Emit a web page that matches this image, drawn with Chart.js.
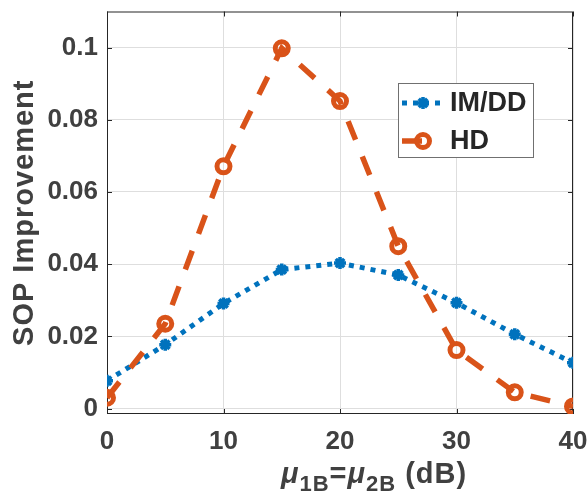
<!DOCTYPE html>
<html>
<head>
<meta charset="utf-8">
<script src="https://cdn.jsdelivr.net/npm/chart.js@4"></script>
<style>
  html, body { margin: 0; padding: 0; background: #fff; }
  #wrap { width: 588px; height: 494px; }
</style>
</head>
<body>
<div id="wrap"><canvas id="sop"></canvas></div>
<script>
// mu_1B = mu_2B sweep (dB) and SOP improvement of each receiver
const snr = [0, 5, 10, 15, 20, 25, 30, 35, 40];
const imdd = [0.0077, 0.0177, 0.0291, 0.0385, 0.0403, 0.0370, 0.0293, 0.0206, 0.0127];
const hd = [0.0030, 0.0235, 0.0671, 0.0998, 0.0852, 0.0450, 0.0162, 0.0045, 0.0006];
const xTicks = [0, 10, 20, 30, 40];
const yTicks = [0, 0.02, 0.04, 0.06, 0.08, 0.1];
const seriesNames = ['IM/DD', 'HD'];

const blue = '#0072BD';
const orange = '#D95319';
const axisColor = '#262626';
const labelColor = '#404040';
const fontFamily = '"Liberation Sans", Arial, sans-serif';

Chart.defaults.font.family = fontFamily;

function pts(ys) {
  return snr.map((x, i) => ({ x: x, y: ys[i] }));
}

// box, inward ticks, axis titles and legend in the MATLAB style
const axesPlugin = {
  id: 'axesBox',
  beforeDatasetsDraw(chart) {
    const { ctx, chartArea: a, scales: { x, y } } = chart;
    ctx.save();
    ctx.strokeStyle = axisColor;
    ctx.lineWidth = 1;
    ctx.strokeRect(a.left + 0.5, a.top + 0.5, a.right - a.left - 1, a.bottom - a.top - 1);
    ctx.beginPath();
    xTicks.forEach(v => {
      const px = Math.round(x.getPixelForValue(v)) + 0.5;
      ctx.moveTo(px, a.bottom); ctx.lineTo(px, a.bottom - 5);
      ctx.moveTo(px, a.top); ctx.lineTo(px, a.top + 5);
    });
    yTicks.forEach(v => {
      const py = Math.round(y.getPixelForValue(v)) + 0.5;
      ctx.moveTo(a.left, py); ctx.lineTo(a.left + 5, py);
      ctx.moveTo(a.right, py); ctx.lineTo(a.right - 5, py);
    });
    ctx.stroke();

    // y title
    ctx.fillStyle = labelColor;
    ctx.letterSpacing = '1px';
    ctx.font = 'bold 29px ' + fontFamily;
    ctx.textAlign = 'center';
    ctx.textBaseline = 'alphabetic';
    ctx.save();
    ctx.translate(33, (a.top + a.bottom) / 2);
    ctx.rotate(-Math.PI / 2);
    ctx.fillText('SOP Improvement', 0, 0);
    ctx.restore();

    // x title with subscripts
    const main = 'bold 29px ' + fontFamily;
    const ital = 'italic bold 29px ' + fontFamily;
    const sub = 'bold 22px ' + fontFamily;
    const parts = [
      ['\u03bc', ital, 0], ['1B', sub, 8], ['=', main, 0],
      ['\u03bc', ital, 0], ['2B', sub, 8], [' (dB)', main, 0]
    ];
    let cx = a.left + 174;
    const base = 483;
    ctx.textAlign = 'left';
    parts.forEach(([t, f, dy]) => {
      ctx.font = f;
      ctx.fillText(t, cx, base + dy);
      cx += ctx.measureText(t).width;
    });
    ctx.restore();
  },
  afterDraw(chart) {
    const { ctx } = chart;
    const H = Chart.helpers;
    ctx.save();
    // legend box
    ctx.fillStyle = '#fff';
    ctx.fillRect(398, 83, 135, 74);
    ctx.strokeStyle = '#707070';
    ctx.lineWidth = 1;
    ctx.strokeRect(398.5, 83.5, 135, 74);

    const rows = [103, 141];
    chart.data.datasets.forEach((ds, i) => {
      const ry = rows[i];
      ctx.save();
      ctx.strokeStyle = ds.borderColor;
      ctx.lineWidth = ds.borderWidth;
      ctx.setLineDash(ds.borderDash);
      ctx.beginPath();
      ctx.moveTo(402, ry);
      ctx.lineTo(440, ry);
      ctx.stroke();
      ctx.restore();

      ctx.save();
      ctx.strokeStyle = ds.pointBorderColor;
      ctx.fillStyle = ds.pointBackgroundColor;
      ctx.lineWidth = ds.pointBorderWidth;
      H.drawPoint(ctx, {
        pointStyle: ds.pointStyle,
        radius: ds.pointRadius,
        borderWidth: ds.pointBorderWidth,
        rotation: 0
      }, 423, ry);
      ctx.restore();

      ctx.fillStyle = axisColor;
      ctx.font = 'bold 27px ' + fontFamily;
      ctx.textAlign = 'left';
      ctx.textBaseline = 'middle';
      ctx.fillText(seriesNames[i], 450, ry + 1);
    });
    ctx.restore();
  }
};

new Chart(document.getElementById('sop'), {
  type: 'line',
  data: {
    datasets: [
      {
        label: seriesNames[0],
        data: pts(imdd),
        borderColor: blue,
        backgroundColor: blue,
        borderWidth: 5,
        borderDash: [5, 6],
        pointStyle: 'star',
        pointRadius: 6,
        pointBorderWidth: 3.5,
        pointBorderColor: blue,
        pointBackgroundColor: blue,
        tension: 0,
        order: 1
      },
      {
        label: seriesNames[1],
        data: pts(hd),
        borderColor: orange,
        backgroundColor: orange,
        borderWidth: 5.5,
        borderDash: [20, 18],
        pointStyle: 'circle',
        pointRadius: 6.5,
        pointBorderWidth: 5,
        pointBorderColor: orange,
        pointBackgroundColor: 'rgba(0,0,0,0)',
        tension: 0,
        order: 0
      }
    ]
  },
  options: {
    responsive: true,
    maintainAspectRatio: false,
    animation: false,
    devicePixelRatio: 1,
    layout: { padding: { top: 5, right: 15, left: 0, bottom: 0 } },
    plugins: {
      legend: { display: false },
      tooltip: { enabled: false }
    },
    scales: {
      x: {
        type: 'linear',
        min: 0,
        max: 40,
        afterBuildTicks: s => { s.ticks = xTicks.map(v => ({ value: v })); },
        afterFit: s => { s.height = 80; s.paddingLeft = 0; s.paddingRight = 0; },
        grid: { color: '#dedede', lineWidth: 1, drawTicks: false },
        border: { display: false },
        ticks: {
          padding: 12,
          color: labelColor,
          font: { size: 26, weight: 'bold' },
          maxRotation: 0,
          callback: v => String(v)
        }
      },
      y: {
        type: 'linear',
        min: -0.0015,
        max: 0.11,
        afterBuildTicks: s => { s.ticks = yTicks.map(v => ({ value: v })); },
        afterFit: s => { s.width = 107; s.paddingTop = 0; s.paddingBottom = 0; },
        grid: { color: '#dedede', lineWidth: 1, drawTicks: false },
        border: { display: false },
        ticks: {
          padding: 9,
          color: labelColor,
          font: { size: 26, weight: 'bold' },
          callback: v => String(v)
        }
      }
    }
  },
  plugins: [axesPlugin]
});
</script>
</body>
</html>
